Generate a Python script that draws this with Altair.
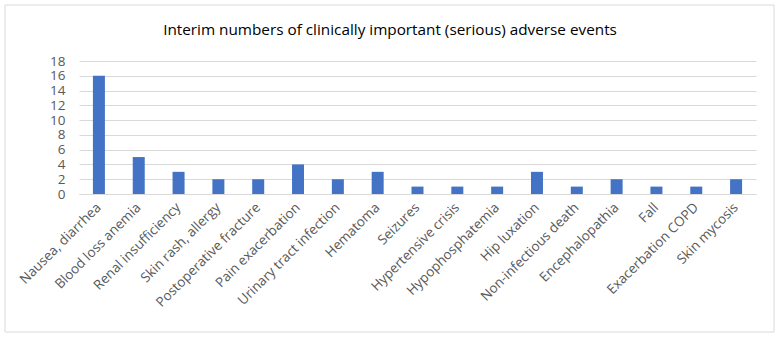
import altair as alt
import pandas as pd

categories = [
    "Nausea, diarrhea", "Blood loss anemia", "Renal insufficiency", "Skin rash, allergy",
    "Postoperative fracture", "Pain exacerbation", "Urinary tract infection", "Hematoma",
    "Seizures", "Hypertensive crisis", "Hypophosphatemia", "Hip luxation",
    "Non-infectious death", "Encephalopathia", "Fall", "Exacerbation COPD", "Skin mycosis",
]
counts = [16, 5, 3, 2, 2, 4, 2, 3, 1, 1, 1, 3, 1, 2, 1, 1, 2]
y_ticks = list(range(0, 19, 2))
title_text = "Interim numbers of clinically important (serious) adverse events"

df = pd.DataFrame({"event": categories, "n": counts})
single = pd.DataFrame({"t": [title_text]})

FONT = "Open Sans"
GREY = "#595959"

bars = alt.Chart(df).mark_bar(color="#4472C4", size=12).encode(
    x=alt.X("event:N", sort=categories, title=None,
            scale=alt.Scale(paddingInner=0, paddingOuter=0),
            axis=alt.Axis(labelAngle=-45, labelAlign="right", labelBaseline="middle",
                          labelFont=FONT, labelFontSize=13.5, labelColor=GREY,
                          ticks=False, domainColor="#d9d9d9", labelPadding=11)),
    y=alt.Y("n:Q", title=None, scale=alt.Scale(domain=[0, 18], nice=False),
            axis=alt.Axis(values=y_ticks, labelFont=FONT, labelFontSize=13.5,
                          labelColor=GREY, ticks=False, domain=False,
                          gridColor="#d9d9d9", labelPadding=14)),
)

# light frame around the whole figure
frame = alt.Chart(single).mark_rect(fill=None, stroke="#d9d9d9", strokeWidth=1).encode(
    x=alt.value(-74), x2=alt.value(695), y=alt.value(-56), y2=alt.value(271)
)

# figure title, centred on the whole figure
title = alt.Chart(single).mark_text(
    font=FONT, fontSize=15.3, fontWeight="normal", color="#000000",
    align="center", baseline="middle"
).encode(text="t:N", x=alt.value(311), y=alt.value(-31))

chart = alt.layer(frame, bars, title).properties(
    width=677, height=133,
    autosize=alt.AutoSizeParams(type="none"),
    padding={"left": 79, "top": 61, "right": 24, "bottom": 143},
).configure_view(stroke=None)

chart.save("out.html", embed_options={"renderer": "svg", "actions": False})
